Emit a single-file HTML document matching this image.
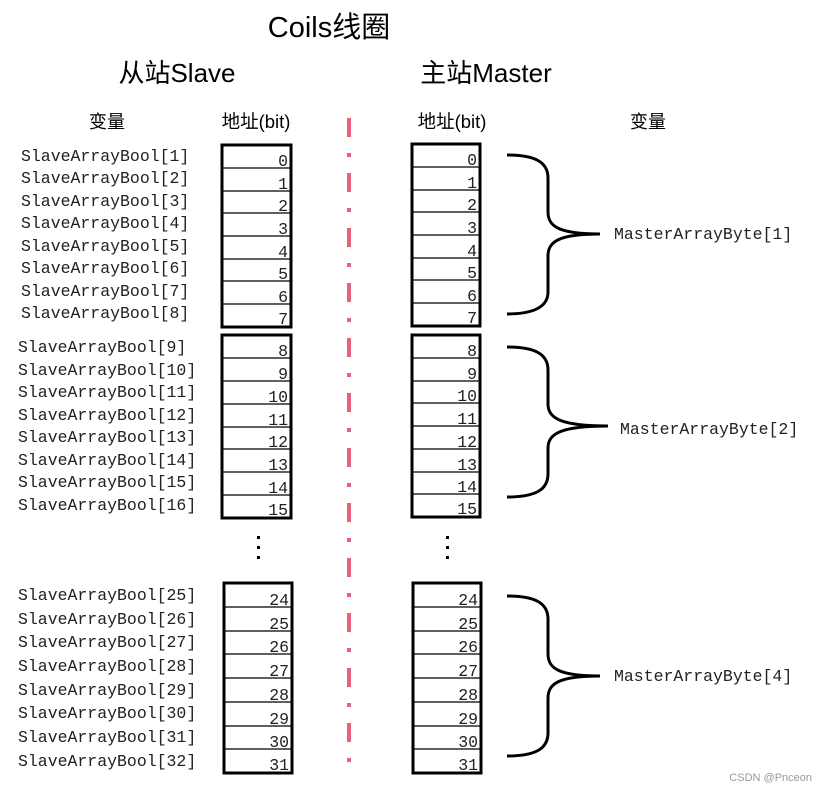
<!DOCTYPE html>
<html><head><meta charset="utf-8"><style>
html,body{margin:0;padding:0;background:#fff;}
svg{display:block;}
.t{font-family:"Liberation Sans","Noto Sans CJK SC",sans-serif;fill:#000;}
.m{font-family:"Liberation Mono","Noto Sans CJK SC",monospace;font-size:16.5px;fill:#222;}
.n{font-family:"Liberation Mono",monospace;font-size:16.5px;fill:#222;text-anchor:end;}
</style></head><body>
<svg width="826" height="791" viewBox="0 0 826 791" xmlns="http://www.w3.org/2000/svg">
<text class="t" x="329" y="37" font-size="29" text-anchor="middle">Coils线圈</text>
<text class="t" x="177" y="82" font-size="26" text-anchor="middle">从站Slave</text>
<text class="t" x="486" y="82" font-size="26" text-anchor="middle">主站Master</text>
<text class="t" x="107" y="128" font-size="18" text-anchor="middle">变量</text>
<text class="t" x="256" y="128" font-size="18.5" text-anchor="middle">地址(bit)</text>
<text class="t" x="452" y="128" font-size="18.5" text-anchor="middle">地址(bit)</text>
<text class="t" x="648" y="128" font-size="18" text-anchor="middle">变量</text>

<line x1="349" y1="118" x2="349" y2="766" stroke="#e8607a" stroke-width="4" stroke-dasharray="19 16 4 16"/>

<g fill="none" stroke="#000">
<rect x="222" y="145" width="69" height="182" stroke-width="3"/>
<rect x="412" y="144" width="68" height="182" stroke-width="3"/>
<g stroke-width="1.3">
<path d="M222 168H291M222 191H291M222 213H291M222 236H291M222 259H291M222 281H291M222 304H291"/>
<path d="M412 167H480M412 190H480M412 212H480M412 235H480M412 258H480M412 280H480M412 303H480"/>
</g>
<rect x="222" y="335" width="69" height="183" stroke-width="3"/>
<rect x="412" y="335" width="68" height="182" stroke-width="3"/>
<g stroke-width="1.3">
<path d="M222 358H291M222 381H291M222 404H291M222 427H291M222 449H291M222 472H291M222 495H291"/>
<path d="M412 358H480M412 381H480M412 403H480M412 426H480M412 449H480M412 472H480M412 494H480"/>
</g>
<rect x="224" y="583" width="68" height="190" stroke-width="3"/>
<rect x="413" y="583" width="68" height="190" stroke-width="3"/>
<g stroke-width="1.3">
<path d="M224 607H292M224 631H292M224 654H292M224 678H292M224 702H292M224 726H292M224 749H292"/>
<path d="M413 607H481M413 631H481M413 654H481M413 678H481M413 702H481M413 726H481M413 749H481"/>
</g>
<g stroke-width="3">
<path d="M507 155C535 155 548 162 548 178V212C548 226 558 234 600 234C558 234 548 242 548 256V292C548 306 535 314 507 314"/>
<path d="M507 347C535 347 548 354 548 370V404C548 418 560 426 608 426C560 426 548 434 548 448V474C548 490 535 497 507 497"/>
<path d="M507 596C535 596 548 603 548 619V654C548 668 558 676 600 676C558 676 548 684 548 698V733C548 749 535 756 507 756"/>
</g>
</g>

<g class="m">
<text x="21" y="161">SlaveArrayBool[1]</text>
<text x="21" y="183">SlaveArrayBool[2]</text>
<text x="21" y="206">SlaveArrayBool[3]</text>
<text x="21" y="228">SlaveArrayBool[4]</text>
<text x="21" y="251">SlaveArrayBool[5]</text>
<text x="21" y="273">SlaveArrayBool[6]</text>
<text x="21" y="296">SlaveArrayBool[7]</text>
<text x="21" y="318">SlaveArrayBool[8]</text>
<text x="18" y="352">SlaveArrayBool[9]</text>
<text x="18" y="375">SlaveArrayBool[10]</text>
<text x="18" y="397">SlaveArrayBool[11]</text>
<text x="18" y="420">SlaveArrayBool[12]</text>
<text x="18" y="442">SlaveArrayBool[13]</text>
<text x="18" y="465">SlaveArrayBool[14]</text>
<text x="18" y="487">SlaveArrayBool[15]</text>
<text x="18" y="510">SlaveArrayBool[16]</text>
<text x="18" y="600">SlaveArrayBool[25]</text>
<text x="18" y="624">SlaveArrayBool[26]</text>
<text x="18" y="647">SlaveArrayBool[27]</text>
<text x="18" y="671">SlaveArrayBool[28]</text>
<text x="18" y="695">SlaveArrayBool[29]</text>
<text x="18" y="718">SlaveArrayBool[30]</text>
<text x="18" y="742">SlaveArrayBool[31]</text>
<text x="18" y="766">SlaveArrayBool[32]</text>
<text x="614" y="239">MasterArrayByte[1]</text>
<text x="620" y="434">MasterArrayByte[2]</text>
<text x="614" y="681">MasterArrayByte[4]</text>
</g>

<g class="n">
<text x="288" y="166">0</text><text x="288" y="189">1</text><text x="288" y="211">2</text><text x="288" y="234">3</text><text x="288" y="257">4</text><text x="288" y="279">5</text><text x="288" y="302">6</text><text x="288" y="324">7</text>
<text x="477" y="165">0</text><text x="477" y="188">1</text><text x="477" y="210">2</text><text x="477" y="233">3</text><text x="477" y="256">4</text><text x="477" y="278">5</text><text x="477" y="301">6</text><text x="477" y="323">7</text>
<text x="288" y="356">8</text><text x="288" y="379">9</text><text x="288" y="402">10</text><text x="288" y="425">11</text><text x="288" y="447">12</text><text x="288" y="470">13</text><text x="288" y="493">14</text><text x="288" y="515">15</text>
<text x="477" y="356">8</text><text x="477" y="379">9</text><text x="477" y="401">10</text><text x="477" y="424">11</text><text x="477" y="447">12</text><text x="477" y="470">13</text><text x="477" y="492">14</text><text x="477" y="514">15</text>
<text x="289" y="605">24</text><text x="289" y="629">25</text><text x="289" y="652">26</text><text x="289" y="676">27</text><text x="289" y="700">28</text><text x="289" y="724">29</text><text x="289" y="747">30</text><text x="289" y="770">31</text>
<text x="478" y="605">24</text><text x="478" y="629">25</text><text x="478" y="652">26</text><text x="478" y="676">27</text><text x="478" y="700">28</text><text x="478" y="724">29</text><text x="478" y="747">30</text><text x="478" y="770">31</text>
</g>

<g fill="#000">
<rect x="257" y="536" width="3" height="3"/><rect x="257" y="546" width="3" height="3"/><rect x="257" y="556" width="3" height="3"/>
<rect x="446" y="536" width="3" height="3"/><rect x="446" y="546" width="3" height="3"/><rect x="446" y="556" width="3" height="3"/>
</g>

<text x="812" y="781" font-family="Liberation Sans,sans-serif" font-size="11" fill="#999" text-anchor="end">CSDN @Pnceon</text>
</svg>
</body></html>
